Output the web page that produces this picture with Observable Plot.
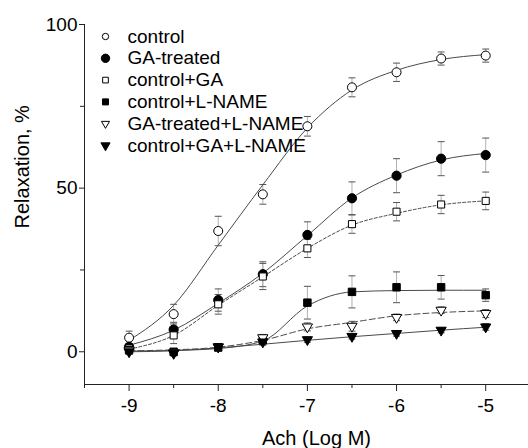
<!DOCTYPE html>
<html><head><meta charset="utf-8">
<script src="https://cdn.jsdelivr.net/npm/d3@7"></script>
<script src="https://cdn.jsdelivr.net/npm/@observablehq/plot@0.6"></script>
<style>
body{margin:0;background:#fff}
#chart svg{display:block;font-family:"Liberation Sans",Arial,sans-serif}
</style>
</head><body><div id="chart"></div>
<script>
// ---- data ----
const doses = [-9, -8.5, -8, -7.5, -7, -6.5, -6, -5.5, -5];
const seriesNames = ["control", "GA-treated", "control+GA", "control+L-NAME", "GA-treated+L-NAME", "control+GA+L-NAME"];

const controlMean = [4.3, 11.5, 36.9, 48.1, 68.9, 80.8, 85.4, 89.6, 90.5];
const controlErr  = [2, 3, 4.5, 3, 3, 2.9, 2.8, 2, 2];
const controlFit  = [3.5, 14.2, 32.6, 51, 68.4, 80, 86, 89.3, 90.8];

const gaMean = [1.5, 6.8, 15.8, 23.7, 35.7, 46.9, 53.8, 59, 60.1];
const gaErr  = [1, 2.2, 3.4, 3.8, 4, 5, 5.2, 5.2, 5.2];
const gaFit  = [2, 6.6, 14.8, 24, 35.5, 47, 54, 58.6, 60.6];

const cgaMean = [1, 5, 14.5, 23, 31.6, 39, 42.8, 45, 46.1];
const cgaErr  = [1, 2.5, 3, 4, 2.8, 2.8, 2.8, 2.8, 2.7];
const cgaFit  = [0.8, 5, 14.2, 22.9, 31.6, 38.7, 42.3, 44.9, 46.1];

const clnMean = [0.5, 0, 1.3, 3.5, 15, 18.3, 19.7, 19.7, 17.3];
const clnErr  = [0.8, 0.8, 1, 1, 5, 4.9, 4.7, 3.6, 1.9];
const clnFit  = [0.2, 0.4, 1, 3.3, 14, 18.3, 18.7, 18.8, 18.8];

const galnMean = [0.5, -0.3, 1.5, 4.3, 7.6, 7.8, 10.5, 12.7, 11.7];
const galnErr  = [0.8, 0.8, 1, 1, 1.2, 1.5, 1, 1, 1.2];
const galnFit  = [0.3, 0.6, 1.4, 3.5, 7, 9, 11, 12, 12.5];

const cgalnMean = [0, -0.5, 1.5, 3, 3.7, 4.7, 5.6, 6.6, 7.6];
const cgalnErr  = [0.8, 0.8, 1, 1, 0.8, 0.8, 0.8, 0.8, 1];
const cgalnFit  = [0, 0.3, 1.2, 2.3, 3.5, 4.6, 5.6, 6.6, 7.5];

const xTicks = [-9, -8, -7, -6, -5];
const xMinorTicks = [-9.5, -8.5, -7.5, -6.5, -5.5];
const yTicks = [0, 50, 100];
const yMinorTicks = [25, 75];
const xDomain = [-9.5, -4.52];
const yDomain = [-10, 100];
const xTitle = "Ach (Log M)";
const yTitle = "Relaxation, %";

// ---- styling (not data) ----
const means = [controlMean, gaMean, cgaMean, clnMean, galnMean, cgalnMean];
const errs = [controlErr, gaErr, cgaErr, clnErr, galnErr, cgalnErr];
const fits = [controlFit, gaFit, cgaFit, clnFit, galnFit, cgalnFit];
const styles = [
  {symbol: "circle", fill: "white", r: 4.5, lr: 3.2, rotate: 0, dash: null},
  {symbol: "circle", fill: "black", r: 4.6, lr: 4.2, rotate: 0, dash: null},
  {symbol: "square", fill: "white", r: 4.0, lr: 3.2, rotate: 0, dash: "3,2"},
  {symbol: "square", fill: "black", r: 4.2, lr: 3.4, rotate: 0, dash: null},
  {symbol: "triangle", fill: "white", r: 3.8, lr: 3.0, rotate: 180, dash: "6,3"},
  {symbol: "triangle", fill: "black", r: 3.8, lr: 3.4, rotate: 180, dash: null}
];

const capSymbol = {draw(ctx, size) { ctx.moveTo(-3.5, 0); ctx.lineTo(3.5, 0); }};

const pts = [];
const fitRows = [];
seriesNames.forEach((s, i) => {
  doses.forEach((d, j) => {
    pts.push({series: s, i, x: d, y: means[i][j], lo: means[i][j] - errs[i][j], hi: means[i][j] + errs[i][j]});
    fitRows.push({series: s, i, x: d, y: fits[i][j]});
  });
});

const font = 19;
const marks = [];
// error bars
marks.push(Plot.ruleX(pts, {x: "x", y1: "lo", y2: "hi", stroke: "#b0b0b0", strokeWidth: 1}));
marks.push(Plot.dot(pts, {x: "x", y: "lo", symbol: capSymbol, r: 3, stroke: "#555", strokeWidth: 1}));
marks.push(Plot.dot(pts, {x: "x", y: "hi", symbol: capSymbol, r: 3, stroke: "#555", strokeWidth: 1}));
// fitted curves
seriesNames.forEach((s, i) => {
  marks.push(Plot.line(fitRows.filter(d => d.i === i), {x: "x", y: "y", curve: "monotone-x", stroke: "#4a4a4a", strokeWidth: 1, strokeDasharray: styles[i].dash}));
});
// points
seriesNames.forEach((s, i) => {
  const st = styles[i];
  marks.push(Plot.dot(pts.filter(d => d.i === i), {x: "x", y: "y", symbol: st.symbol, r: st.r, rotate: st.rotate, fill: st.fill, stroke: "black", strokeWidth: 1}));
});
// legend
seriesNames.forEach((s, i) => {
  const st = styles[i];
  marks.push(Plot.dot([s], {frameAnchor: "top-left", dx: 21, dy: 12 + i * 21.8, symbol: st.symbol, r: st.lr, rotate: st.rotate, fill: st.fill, stroke: "black", strokeWidth: 1}));
  marks.push(Plot.text([s], {text: d => d, frameAnchor: "top-left", dx: 43, dy: 12 + i * 21.8, textAnchor: "start", lineAnchor: "middle", fontSize: font, fill: "black"}));
});
// axes
marks.push(Plot.ruleY([yDomain[0]], {stroke: "#222"}));
marks.push(Plot.ruleX([xDomain[0]], {stroke: "#222"}));
marks.push(Plot.axisX(xTicks, {tickSize: 7, tickPadding: 7, fontSize: font, tickFormat: d => String(d), label: null, stroke: "#222", fill: "black"}));
marks.push(Plot.axisX(xMinorTicks, {tickSize: 4, tickFormat: () => "", label: null, stroke: "#222"}));
marks.push(Plot.axisY(yTicks, {tickSize: 5, tickPadding: 2, fontSize: font, tickFormat: d => String(d), label: null, stroke: "#222", fill: "black"}));
marks.push(Plot.axisY(yMinorTicks, {tickSize: 4, tickFormat: () => "", label: null, stroke: "#222"}));
marks.push(Plot.text([xTitle], {text: d => d, frameAnchor: "bottom", dx: 10, dy: 54, lineAnchor: "middle", fontSize: 20, fill: "black"}));
marks.push(Plot.text([yTitle], {text: d => d, frameAnchor: "left", rotate: -90, dx: -62, dy: 24, lineAnchor: "middle", fontSize: 20, fill: "black"}));

const chart = Plot.plot({
  width: 528, height: 448,
  marginLeft: 84, marginRight: 0, marginTop: 24, marginBottom: 64,
  style: {fontFamily: '"Liberation Sans", Arial, sans-serif', background: "white", overflow: "visible"},
  x: {domain: xDomain},
  y: {domain: yDomain},
  marks
});
document.getElementById("chart").appendChild(chart);
</script>
</body></html>
